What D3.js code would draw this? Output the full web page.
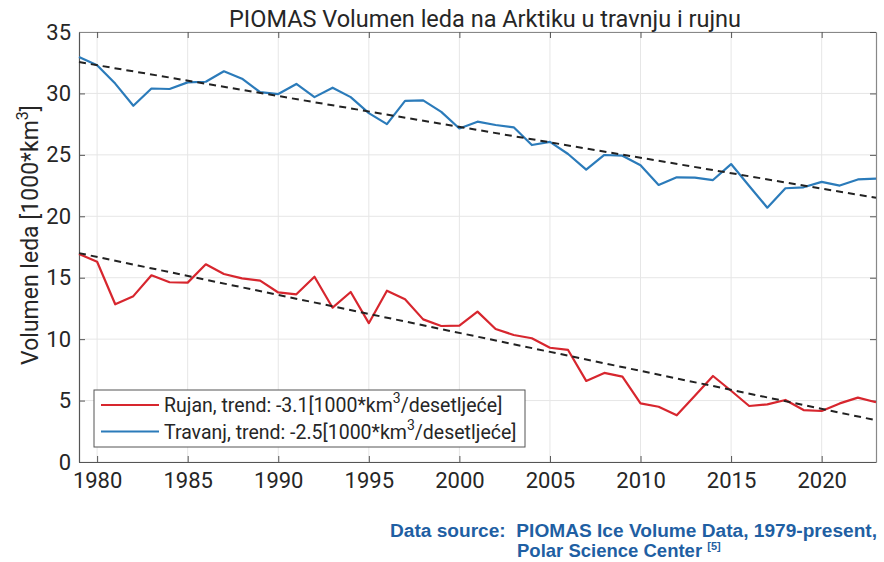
<!DOCTYPE html>
<html><head><meta charset="utf-8">
<script src="https://cdn.jsdelivr.net/npm/d3@7"></script>
<style>
html,body{margin:0;padding:0;background:#fff;}
svg{display:block;}
</style></head>
<body>
<svg id="chart" width="884" height="562"></svg>
<script>
const years = d3.range(1979, 2024);
const april = [32.96,32.3,30.8,29.0,30.4,30.36,30.9,30.95,31.8,31.2,30.1,29.95,30.77,29.7,30.47,29.7,28.4,27.5,29.4,29.43,28.5,27.15,27.7,27.43,27.24,25.8,26.05,25.07,23.8,24.99,24.93,24.15,22.55,23.17,23.14,22.95,24.25,22.46,20.7,22.28,22.36,22.8,22.5,23.0,23.06];
const september = [16.93,16.3,12.84,13.5,15.2,14.63,14.6,16.09,15.3,14.95,14.76,13.8,13.65,15.08,12.56,13.84,11.3,13.94,13.24,11.61,11.07,11.1,12.24,10.82,10.34,10.07,9.3,9.12,6.6,7.25,6.95,4.77,4.5,3.8,5.4,7.0,5.8,4.56,4.69,5.05,4.23,4.15,4.77,5.24,4.86];
const trendYears = [1979, 2023];
const aprilTrend = [32.55, 21.5];
const septTrend = [17.0, 3.4];
const xTicks = [1980,1985,1990,1995,2000,2005,2010,2015,2020];
const yTicks = [0,5,10,15,20,25,30,35];
const legendLabels = [
  {name:"Rujan, trend: -3.1[1000*km", sup:"3", tail:"/desetljeće]", color:"#d7262e"},
  {name:"Travanj, trend: -2.5[1000*km", sup:"3", tail:"/desetljeće]", color:"#2b7bba"}
];
const titleText = "PIOMAS Volumen leda na Arktiku u travnju i rujnu";

const svg = d3.select("#chart");
const m = {left:79, right:876, top:32, bottom:462};
const x = d3.scaleLinear().domain([1979, 2023]).range([m.left, m.right]);
const y = d3.scaleLinear().domain([0, 35]).range([m.bottom, m.top]);

const FONT = "Roboto, 'Noto Sans', sans-serif";

// grid
const g = svg.append("g");
g.selectAll(".vg").data(xTicks).join("line")
  .attr("x1", d=>x(d)).attr("x2", d=>x(d)).attr("y1", m.top).attr("y2", m.bottom)
  .attr("stroke", "#e6e6e6").attr("stroke-width", 1);
g.selectAll(".hg").data(yTicks).join("line")
  .attr("x1", m.left).attr("x2", m.right).attr("y1", d=>y(d)).attr("y2", d=>y(d))
  .attr("stroke", "#e6e6e6").attr("stroke-width", 1);

// axes via d3 (inside ticks)
const xAxis = svg.append("g").attr("transform", `translate(0,${m.bottom})`)
  .call(d3.axisBottom(x).tickValues(xTicks).tickFormat(d3.format("d")).tickSizeInner(-6).tickSizeOuter(0).tickPadding(10));
const yAxis = svg.append("g").attr("transform", `translate(${m.left},0)`)
  .call(d3.axisLeft(y).tickValues(yTicks).tickSizeInner(-6).tickSizeOuter(0).tickPadding(8));
const xTop = svg.append("g").attr("transform", `translate(0,${m.top})`)
  .call(d3.axisTop(x).tickValues(xTicks).tickFormat("").tickSizeInner(-6).tickSizeOuter(0));
const yRight = svg.append("g").attr("transform", `translate(${m.right},0)`)
  .call(d3.axisRight(y).tickValues(yTicks).tickFormat("").tickSizeInner(-6).tickSizeOuter(0));
[xAxis, yAxis, xTop, yRight].forEach(a => {
  a.select(".domain").attr("stroke", "#555").attr("stroke-width", 1.2);
  a.selectAll(".tick line").attr("stroke", "#555");
  a.selectAll("text").attr("font-family", FONT).attr("font-size", 22).attr("fill", "#262626");
});
xTop.select(".domain").attr("stroke", "#888");
yRight.select(".domain").attr("stroke", "#888");

// lines
const line = d3.line().x((d,i)=>x(years[i])).y(d=>y(d));
svg.append("path").datum(april).attr("d", line).attr("fill","none")
  .attr("stroke","#2b7bba").attr("stroke-width",2.2).attr("stroke-linejoin","round");
svg.append("path").datum(september).attr("d", line).attr("fill","none")
  .attr("stroke","#d7262e").attr("stroke-width",2.2).attr("stroke-linejoin","round");
const tline = d3.line().x((d,i)=>x(trendYears[i])).y(d=>y(d));
[aprilTrend, septTrend].forEach(t => {
  svg.append("path").datum(t).attr("d", tline).attr("fill","none")
    .attr("stroke","#222").attr("stroke-width",2).attr("stroke-dasharray","7,5");
});

// legend
const lg = svg.append("g");
lg.append("rect").attr("x", 94).attr("y", 390).attr("width", 431).attr("height", 57)
  .attr("fill", "#fff").attr("stroke", "#555").attr("stroke-width", 1);
legendLabels.forEach((d, i) => {
  const ly = 405 + i*26.5;
  lg.append("line").attr("x1", 101).attr("x2", 159).attr("y1", ly).attr("y2", ly)
    .attr("stroke", d.color).attr("stroke-width", 2);
  const t = lg.append("text").attr("x", 164).attr("y", ly + 7)
    .attr("font-family", FONT).attr("font-size", 19.5).attr("fill", "#262626");
  t.append("tspan").text(d.name);
  t.append("tspan").attr("dy", -9).attr("font-size", 14).text(d.sup);
  t.append("tspan").attr("dy", 9).text(d.tail);
});

// title
svg.append("text").attr("x", 485).attr("y", 27).attr("text-anchor","middle")
  .attr("font-family", FONT).attr("font-size", 23.5).attr("fill", "#262626").text(titleText);

// y label
const yl = svg.append("text").attr("transform", `translate(38,235) rotate(-90)`)
  .attr("text-anchor", "middle").attr("font-family", FONT).attr("font-size", 23).attr("fill", "#262626");
yl.append("tspan").text("Volumen leda [1000*km");
yl.append("tspan").attr("dy", -10).attr("font-size", 16).text("3");
yl.append("tspan").attr("dy", 10).text("]");

// source
const SF = "'Liberation Sans', Arial, sans-serif";
svg.append("text").attr("x", 390).attr("y", 537)
  .attr("font-family", SF).attr("font-weight", "bold").attr("font-size", 18).attr("fill", "#1f5fa3")
  .attr("textLength", 487).attr("lengthAdjust", "spacingAndGlyphs")
  .style("white-space", "pre").text("Data source:  PIOMAS Ice Volume Data, 1979-present,");
const s2 = svg.append("text").attr("x", 517).attr("y", 557)
  .attr("font-family", SF).attr("font-weight", "bold").attr("font-size", 18.5).attr("fill", "#1f5fa3");
s2.append("tspan").text("Polar Science Center ");
s2.append("tspan").attr("dy", -7).attr("font-size", 11).text("[5]");
</script>
</body></html>
